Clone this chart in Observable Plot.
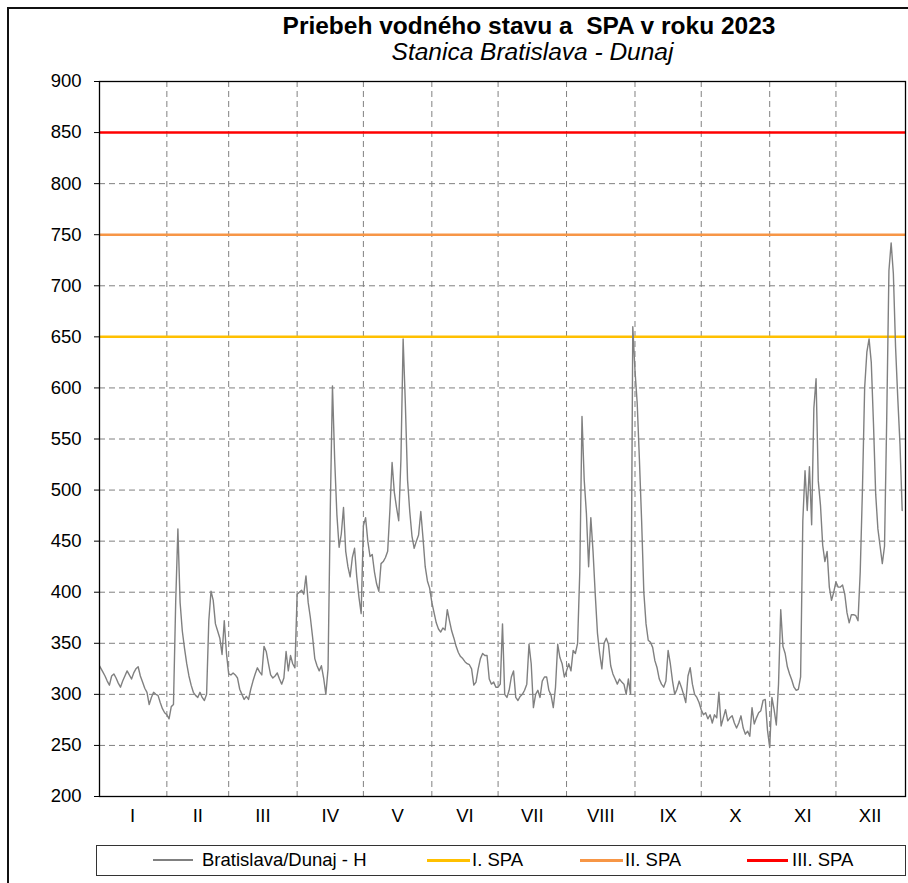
<!DOCTYPE html>
<html>
<head>
<meta charset="utf-8">
<script src="https://cdn.jsdelivr.net/npm/d3@7"></script>
<script src="https://cdn.jsdelivr.net/npm/@observablehq/plot@0.6"></script>
<style>
  html, body { margin: 0; padding: 0; background: #fff; }
  body { width: 908px; height: 883px; position: relative; overflow: hidden;
         font-family: "Liberation Sans", Arial, sans-serif; color: #000; }
  #outer { position: absolute; left: 7px; top: 7px; width: 960px; height: 940px;
           border: 2px solid #111; box-sizing: border-box; }
  .t { position: absolute; white-space: pre; line-height: 1; text-align: center; }
  #title { left: 0; width: 1058px; top: 13.6px; font-size: 24.5px; font-weight: bold; }
  #subtitle { left: 0; width: 1065px; top: 40px; font-size: 24.5px; font-style: italic; }
  #chart { position: absolute; left: 0; top: 60px; }
  #legend { position: absolute; left: 96px; top: 845px; width: 810px; height: 31px;
            border: 1.5px solid #333; box-sizing: border-box; }
  .lg-line { position: absolute; }
  .lg-text { position: absolute; font-size: 18.5px; line-height: 1; white-space: pre; }
</style>
</head>
<body>
<div id="outer"></div>
<div id="title" class="t">Priebeh vodného stavu a  SPA v roku 2023</div>
<div id="subtitle" class="t">Stanica Bratislava - Dunaj</div>
<div id="chart"></div>
<div id="legend"></div>
<script>
// ---- data: daily water level H [cm], Bratislava - Dunaj, 2023 ----
const jan = [330, 326, 322, 318, 313, 309, 318, 320, 316, 311, 307, 313, 318, 323, 319, 315, 321, 325, 327, 318, 312, 306, 302, 290, 297, 302, 300, 299, 292, 286, 282];
const feb = [280, 276, 288, 290, 390, 462, 390, 362, 345, 330, 318, 309, 302, 299, 297, 302, 297, 294, 300, 372, 401, 392, 369, 362, 355, 339, 372, 340];
const mar = [320, 319, 321, 319, 316, 305, 300, 295, 298, 295, 305, 313, 320, 326, 322, 319, 347, 342, 330, 319, 316, 318, 321, 315, 310, 316, 342, 323, 338, 330, 326];
const apr = [398, 400, 402, 398, 416, 390, 375, 356, 335, 328, 323, 328, 316, 300, 325, 480, 602, 530, 476, 444, 457, 483, 440, 425, 415, 434, 443, 415, 395, 379];
const may = [465, 473, 450, 435, 437, 420, 408, 401, 428, 430, 434, 440, 480, 527, 498, 483, 470, 530, 648, 585, 510, 479, 455, 443, 450, 456, 479, 453, 425, 411, 404];
const jun = [390, 380, 370, 364, 361, 365, 363, 383, 372, 362, 355, 347, 341, 337, 335, 332, 330, 329, 325, 309, 312, 325, 335, 340, 338, 338, 315, 310, 312, 307];
const jul = [307, 310, 369, 300, 297, 304, 317, 323, 297, 294, 298, 300, 304, 310, 349, 330, 287, 300, 304, 297, 313, 317, 317, 304, 299, 287, 307, 349, 336, 330, 317];
const aug = [323, 330, 323, 343, 340, 350, 420, 572, 510, 477, 425, 473, 440, 398, 360, 340, 325, 350, 355, 349, 328, 320, 315, 310, 315, 312, 310, 300, 315, 300, 660];
const sep = [617, 585, 530, 470, 400, 369, 353, 351, 346, 333, 326, 315, 310, 307, 313, 343, 330, 313, 300, 305, 313, 307, 300, 292, 318, 326, 310, 300, 297, 292];
const oct = [285, 280, 282, 276, 280, 272, 280, 277, 302, 269, 277, 285, 274, 277, 279, 272, 267, 272, 279, 267, 261, 264, 259, 287, 271, 277, 282, 284, 294, 295, 265];
const nov = [248, 297, 285, 270, 310, 383, 347, 340, 327, 320, 314, 307, 304, 305, 317, 470, 519, 480, 523, 466, 580, 609, 509, 485, 446, 430, 440, 405, 392, 400];
const dec = [410, 405, 405, 407, 398, 380, 370, 378, 378, 377, 372, 420, 500, 600, 635, 648, 625, 565, 496, 462, 445, 428, 445, 570, 715, 742, 712, 640, 590, 545, 480];

const monthLabels = ["I", "II", "III", "IV", "V", "VI", "VII", "VIII", "IX", "X", "XI", "XII"];
const monthDays = [31, 28, 31, 30, 31, 30, 31, 31, 30, 31, 30, 31];
const yTicks = [200, 250, 300, 350, 400, 450, 500, 550, 600, 650, 700, 750, 800, 850, 900];
const spaLevels = [650, 750, 850];
const seriesNames = ["Bratislava/Dunaj - H", "I. SPA", "II. SPA", "III. SPA"];

// ---- styles ----
const seriesColor = "#808080";
const spaColors = ["#FFC000", "#F79646", "#FF0000"];
const gridColor = "#808080";

// ---- build ----
const values = [jan, feb, mar, apr, may, jun, jul, aug, sep, oct, nov, dec].flat();
const data = values.map((h, i) => ({ day: i, h }));
const monthStarts = [];
monthDays.reduce((acc, n) => { monthStarts.push(acc); return acc + n; }, 0);
const boundaries = monthStarts.slice(1);
const labelPos = monthStarts.map((s, i) => s + monthDays[i] / 2);
const labelMap = new Map(labelPos.map((p, i) => [p, monthLabels[i]]));

const chart = Plot.plot({
  width: 908,
  height: 775,
  marginLeft: 99,
  marginRight: 3,
  marginTop: 21,
  marginBottom: 39,
  style: { fontFamily: "'Liberation Sans', Arial, sans-serif", fontSize: "18.5px", color: "#000", background: "transparent", overflow: "visible" },
  x: { domain: [0.5, 365.5], axis: null },
  y: { domain: [200, 900], axis: null },
  marks: [
    Plot.ruleY(yTicks.filter(v => v > 200 && v < 900), { stroke: gridColor, strokeWidth: 1, strokeDasharray: "6,4" }),
    Plot.ruleX(boundaries, { stroke: gridColor, strokeWidth: 1, strokeDasharray: "6,4" }),
    ...spaLevels.map((v, i) => Plot.ruleY([v], { stroke: spaColors[i], strokeWidth: 2.5 })),
    Plot.line(data, { x: "day", y: "h", stroke: seriesColor, strokeWidth: 1.4, clip: true }),
    Plot.frame({ stroke: "#000", strokeWidth: 1.3 }),
    Plot.axisY({ ticks: yTicks, tickSize: 5, tickPadding: 13, tickFormat: d => String(d), stroke: "#000", label: null }),
    Plot.axisX({ ticks: labelPos, tickSize: 0, tickPadding: 12, tickFormat: d => labelMap.get(d), label: null })
  ]
});
document.getElementById("chart").appendChild(chart);

// ---- legend ----
const legend = document.body;
const lgItems = [
  { name: seriesNames[0], color: seriesColor, lx: 153, lw: 40, th: 1.5, tx: 202 },
  { name: seriesNames[1], color: spaColors[0], lx: 427, lw: 43, th: 3, tx: 472 },
  { name: seriesNames[2], color: spaColors[1], lx: 580, lw: 43, th: 3, tx: 625 },
  { name: seriesNames[3], color: spaColors[2], lx: 747, lw: 41, th: 3, tx: 792 }
];
lgItems.forEach(it => {
  const l = document.createElement("div");
  l.className = "lg-line";
  l.style.left = it.lx + "px";
  l.style.width = it.lw + "px";
  l.style.top = (860 - it.th / 2) + "px";
  l.style.height = it.th + "px";
  l.style.background = it.color;
  legend.appendChild(l);
  const t = document.createElement("div");
  t.className = "lg-text";
  t.style.left = it.tx + "px";
  t.style.top = "851px";
  t.textContent = it.name;
  legend.appendChild(t);
});
</script>
</body>
</html>
